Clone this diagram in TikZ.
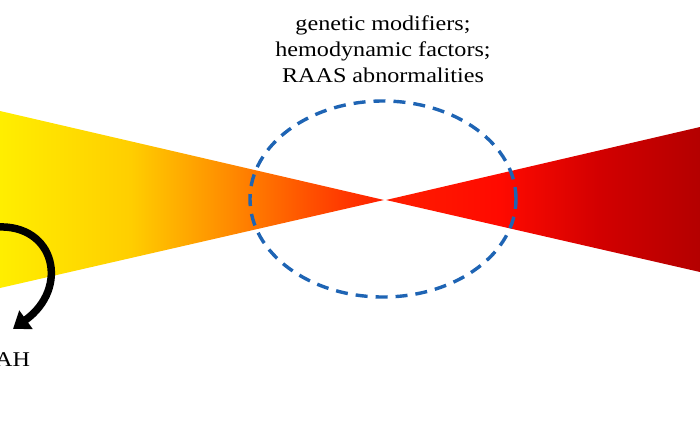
\documentclass[tikz,border=0pt]{standalone}
\usepackage{fontspec}
\setmainfont{Liberation Serif}[FakeStretch=1.15]
\usetikzlibrary{arrows.meta,positioning,calc,shapes.geometric}

\definecolor{conea}{RGB}{255,238,0}
\definecolor{coneb}{RGB}{255,206,0}
\definecolor{conec}{RGB}{255,138,0}
\definecolor{coned}{RGB}{255,82,0}
\definecolor{conee}{RGB}{255,30,0}
\definecolor{redb}{RGB}{255,10,0}
\definecolor{redc}{RGB}{210,0,0}
\definecolor{redd}{RGB}{180,0,0}
\definecolor{ringblue}{RGB}{30,100,180}

% colour runs of the two cones
\pgfdeclarehorizontalshading{leftcone}{100bp}{color(0bp)=(conea); color(25bp)=(conea);
  color(42bp)=(coneb); color(55bp)=(conec); color(65bp)=(coned);
  color(75bp)=(conee); color(100bp)=(conee)}
\pgfdeclarehorizontalshading{rightcone}{100bp}{color(0bp)=(conee); color(25bp)=(conee);
  color(43bp)=(redb); color(59bp)=(redc); color(75bp)=(redd); color(100bp)=(redd)}

\begin{document}
\begin{tikzpicture}[x=1pt, y=-1pt, font=\fontsize{21}{26}\selectfont,
    ring/.style={draw=ringblue, line width=3.4pt, dash pattern=on 12pt off 8pt},
    curlarrow/.style={line width=7.5pt, -{Triangle[width=22pt,length=16pt]}}]

  \useasboundingbox (0,0) rectangle (700,440);

  % the two cones
  \shade[shading=leftcone] (0,111) -- (384,200) -- (0,288) -- cycle;
  \shade[shading=rightcone] (386,200) -- (700,127) -- (700,272) -- cycle;

  % ring and its label
  \node[ring, ellipse, minimum width=266pt, minimum height=196pt, inner sep=0pt] (ring) at (383,199) {};
  \node[align=center, above=13pt of ring.north] (mods) {genetic modifiers;\\hemodynamic factors;\\RAAS abnormalities};

  % curved arrow down to the label
  \node[anchor=west, inner sep=0pt] (ah) at (-5,360) {AH};
  \coordinate (arcstart) at (-3,227);
  \coordinate (arcend) at (13,329);
  \draw[curlarrow] (arcstart) .. controls (55,224) and (70,288) .. (arcend);

\end{tikzpicture}
\end{document}
